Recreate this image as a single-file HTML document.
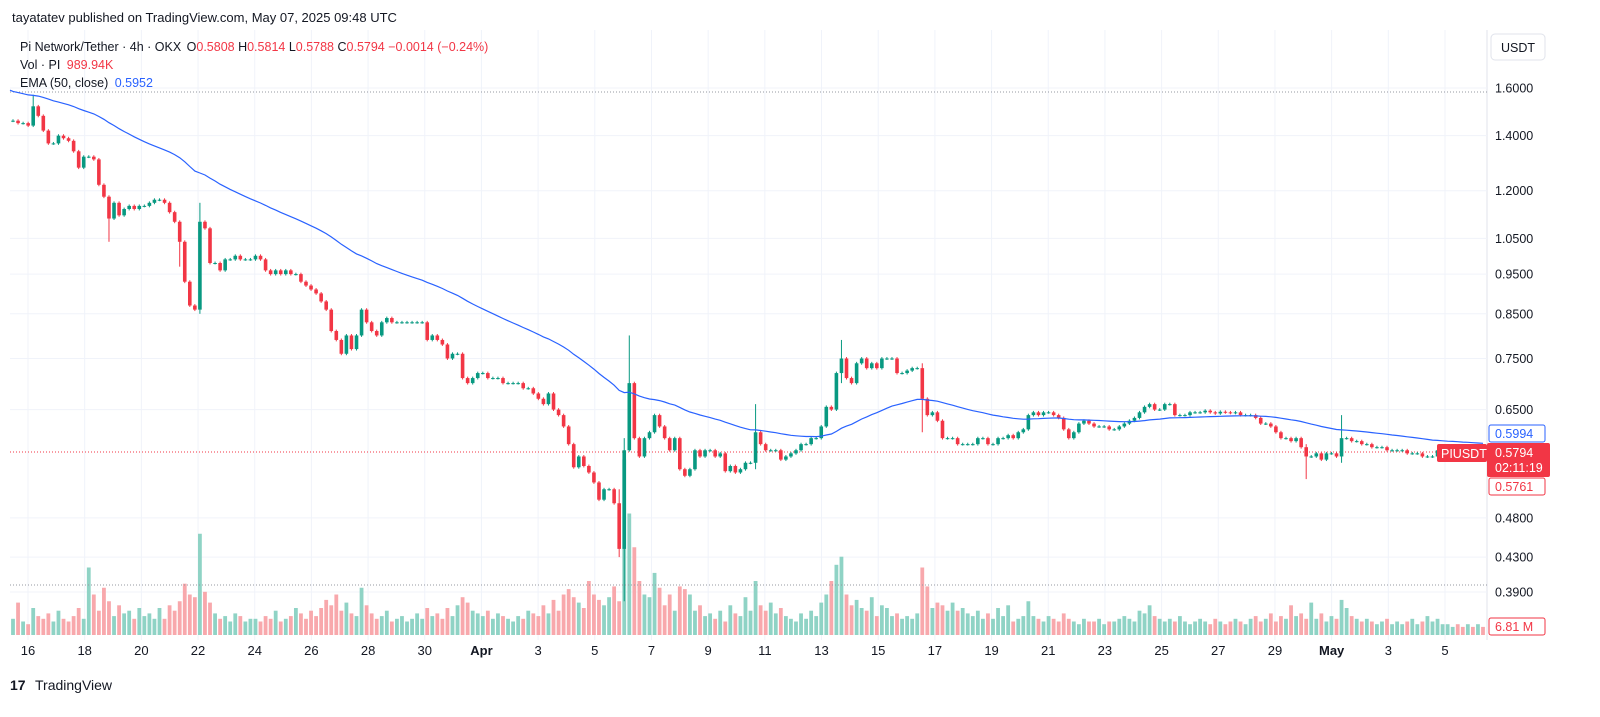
<!DOCTYPE html>
<html><head><meta charset="utf-8"><style>
body{margin:0;background:#fff;}
svg{display:block;font-family:"Liberation Sans",sans-serif;}
</style></head><body>
<svg id="chart" width="1600" height="717" viewBox="0 0 1600 717">
<rect x="0" y="0" width="1600" height="717" fill="#fff"/>
<text x="12" y="22" font-size="13" fill="#131722">tayatatev published on TradingView.com, May 07, 2025 09:48 UTC</text>
<line x1="1487" y1="30" x2="1487" y2="640" stroke="#e0e3eb"/>
<g id="grid"></g>
<g id="vol"></g>
<line x1="10" y1="92" x2="1487" y2="92" stroke="#9598a1" stroke-dasharray="1,2"/>
<line x1="10" y1="585" x2="1487" y2="585" stroke="#9598a1" stroke-dasharray="1,2"/>
<line x1="10" y1="452" x2="1487" y2="452" stroke="#f23645" stroke-dasharray="1,2"/>
<g id="candles"></g>
<path id="ema" fill="none" stroke="#2962ff" stroke-width="1.2"/>
<g id="yaxis"></g>
<g id="xaxis"></g>
<g font-size="12.5">
<text x="20" y="51" fill="#131722">Pi Network/Tether · 4h · OKX <tspan dx="2">O</tspan><tspan fill="#f23645">0.5808</tspan> H<tspan fill="#f23645">0.5814</tspan> L<tspan fill="#f23645">0.5788</tspan> C<tspan fill="#f23645">0.5794 −0.0014 (−0.24%)</tspan></text>
<text x="20" y="69" fill="#131722">Vol · PI <tspan fill="#f23645" dx="3">989.94K</tspan></text>
<text x="20" y="87" fill="#131722">EMA (50, close) <tspan fill="#2962ff" dx="3">0.5952</tspan></text>
</g>
<rect x="1491" y="34" width="54" height="26" rx="4" fill="#fff" stroke="#e0e3eb"/>
<text x="1518" y="52" font-size="12.5" fill="#131722" text-anchor="middle">USDT</text>
<rect x="1489" y="425" width="56" height="17" rx="2" fill="#fff" stroke="#2962ff"/>
<text x="1495" y="438" font-size="12.5" fill="#2962ff">0.5994</text>
<rect x="1437" y="444" width="50" height="18" rx="2" fill="#f23645"/>
<text x="1441" y="458" font-size="12.5" fill="#fff">PIUSDT</text>
<rect x="1487" y="443" width="63" height="34" rx="2" fill="#f23645"/>
<text x="1495" y="457" font-size="12.5" fill="#fff">0.5794</text>
<text x="1495" y="472" font-size="12.5" fill="#fff">02:11:19</text>
<rect x="1489" y="478" width="56" height="17" rx="2" fill="#fff" stroke="#f23645"/>
<text x="1495" y="491" font-size="12.5" fill="#f23645">0.5761</text>
<rect x="1489" y="618" width="56" height="17" rx="2" fill="#fff" stroke="#f23645"/>
<text x="1495" y="631" font-size="12.5" fill="#f23645">6.81 M</text>
<g>
<text x="10" y="690" font-size="14" font-weight="bold" fill="#131722">17</text>
<text x="35" y="690" font-size="14" fill="#131722">TradingView</text>
</g>
</svg>
<script>
const closes=[1.46,1.45,1.45,1.44,1.52,1.48,1.42,1.37,1.37,1.40,1.39,1.38,1.34,1.28,1.32,1.32,1.31,1.22,1.18,1.11,
1.16,1.12,1.14,1.15,1.14,1.15,1.15,1.16,1.17,1.17,1.16,1.13,1.10,1.04,0.93,0.87,0.86,1.10,1.08,0.98,0.98,0.96,0.99,0.99,1.00,0.99,0.99,0.99,1.00,0.99,
0.96,0.95,0.96,0.95,0.96,0.95,0.95,0.93,0.92,0.91,0.90,0.88,0.86,0.81,0.79,0.76,0.80,0.77,0.80,0.86,0.83,0.81,0.80,0.83,0.84,0.83,0.83,0.83,0.83,0.83,0.83,0.83,0.79,0.80,0.79,0.78,0.75,0.76,0.76,0.71,0.70,0.71,0.72,0.72,0.71,0.71,0.71,0.70,0.70,0.70,0.70,0.69,0.69,0.68,
0.67,0.66,0.68,0.65,0.64,0.62,0.59,0.553,0.57,0.555,0.545,0.53,0.505,0.52,0.52,0.50,0.44,0.58,0.70,0.60,0.57,0.60,0.61,0.64,0.62,0.60,0.58,0.60,0.55,0.54,0.55,0.58,0.57,0.58,0.58,0.57,0.575,0.547,0.555,0.545,0.55,0.56,0.56,0.61,0.59,0.58,0.58,0.58,0.565,0.57,0.575,0.58,0.59,0.59,0.60,0.60,0.62,0.655,0.65,0.72,0.75,0.71,0.70,0.74,0.75,0.73,0.74,0.73,0.75,0.75,0.75,0.72,0.72,0.725,0.73,0.73,0.67,0.64,0.645,0.63,0.60,0.60,0.60,0.59,0.59,0.59,0.59,0.60,0.60,0.59,0.59,0.60,0.60,0.605,
0.60,0.61,0.615,0.64,0.645,0.64,0.645,0.645,0.64,0.635,0.615,0.60,0.61,0.625,0.63,0.625,0.62,0.62,0.62,0.615,0.615,0.62,0.625,0.63,0.635,0.645,0.655,0.66,0.65,0.65,0.66,0.66,0.64,0.64,0.64,0.645,0.645,0.645,0.648,0.645,0.643,0.646,0.645,0.644,0.645,0.64,0.64,0.64,0.635,0.625,0.625,0.62,0.61,0.60,0.60,0.595,0.60,0.585,0.57,0.57,0.575,0.565,0.575,0.575,0.57,0.60,0.60,0.595,0.595,0.59,0.59,0.585,0.585,0.585,0.58,0.58,0.58,0.58,0.575,0.575,0.575,0.57,0.57,0.57,0.58,0.58,0.58,0.585,0.582,0.58,0.581,0.579,0.58,0.5794];
const volumes=[12,24,10,8,20,14,12,16,10,18,12,10,14,20,12,50,30,18,35,25,
14,22,16,18,12,20,14,16,12,20,12,22,18,25,38,30,28,75,32,24,16,12,14,10,16,14,10,12,12,10,
14,12,18,10,12,14,20,16,12,18,14,20,26,22,30,18,24,16,14,35,22,16,12,14,18,10,12,14,10,12,16,12,20,14,16,12,20,14,22,28,24,18,16,14,18,12,16,14,12,10,14,12,18,16,
14,22,16,26,18,30,34,28,24,20,40,30,26,22,28,36,25,130,90,65,40,30,28,46,35,22,30,18,36,34,30,18,22,14,16,12,18,10,22,16,14,28,18,40,22,18,24,16,20,14,12,10,16,12,18,14,24,30,40,52,58,30,22,26,20,18,28,14,22,20,14,16,12,14,12,16,50,36,20,24,22,18,24,18,20,16,14,18,12,16,12,20,14,22,
10,12,14,25,14,12,10,14,12,10,16,12,10,8,12,10,10,12,8,10,10,12,14,12,10,18,16,22,14,12,10,12,10,14,10,8,10,12,10,8,12,10,8,10,12,10,8,12,14,10,12,16,10,14,12,22,14,16,12,24,12,16,10,14,12,26,20,14,12,10,12,10,8,10,12,8,10,8,10,12,8,10,14,10,12,8,8,6,8,6,8,6,8,6];
const spikeIdx=[4,19,33,37,120,121,122,147,164,180,256,263];
const spikeHigh=[1.57,1.16,1.10,1.16,0.52,0.60,0.80,0.66,0.79,0.74,0.59,0.64];
const spikeLow=[1.45,1.04,0.97,0.85,0.43,0.38,0.58,0.55,0.70,0.61,0.535,0.56];
const priceTicks=[1.6,1.4,1.2,1.05,0.95,0.85,0.75,0.65,0.48,0.43,0.39];
const priceTickLabels=["1.6000","1.4000","1.2000","1.0500","0.9500","0.8500","0.7500","0.6500","0.4800","0.4300","0.3900"];
const dateLabels=["16","18","20","22","24","26","28","30","Apr","3","5","7","9","11","13","15","17","19","21","23","25","27","29","May","3","5"];
const dateDays=[0,2,4,6,8,10,12,14,16,18,20,22,24,26,28,30,32,34,36,38,40,42,44,46,48,50];
const emaSeed=1.59;

const NS="http://www.w3.org/2000/svg";
const Y0=88,K=357,PTOP=1.6;
function yScale(p){return Y0+Math.log(PTOP/p)*K;}
const X0=13,X1=1483;
function xScale(i){return X0+(X1-X0)*i/(closes.length-1);}
function dateX(d){return 28+d*28.34;}
const VB=635,VK=1.35;
function vScale(v){return v*VK;}
function mk(tag,attrs,parent){const e=document.createElementNS(NS,tag);for(const k in attrs)e.setAttribute(k,attrs[k]);parent.appendChild(e);return e;}

const grid=document.getElementById('grid'),yaxis=document.getElementById('yaxis'),xaxis=document.getElementById('xaxis');
priceTicks.forEach((p,i)=>{
  const y=yScale(p);
  const l=mk('line',{x1:10,x2:1487,y1:y,y2:y,stroke:'#f0f3fa'},grid);
  
  
  const t=mk('text',{x:1495,y:y+4.5,'font-size':12.5,fill:'#131722'},yaxis);
  t.textContent=priceTickLabels[i];
  
  
});
dateLabels.forEach((s,i)=>{
  const x=dateX(dateDays[i]);
  const l=mk('line',{x1:x,x2:x,y1:30,y2:640,stroke:'#f0f3fa'},grid);
  
  
  const bold=(s==="Apr"||s==="May");
  const t=mk('text',{x:x,y:655,'font-size':13,fill:'#131722','text-anchor':'middle','font-weight':bold?'bold':'normal'},xaxis);
  t.textContent=s;
  
  
});

const cg=document.getElementById('candles'),vg=document.getElementById('vol');
let prev=closes[0];
closes.forEach((c,i)=>{
  const o=prev;prev=c;
  const up=c>=o;
  let hi=Math.max(o,c)*1.004,lo=Math.min(o,c)*0.996;
  const si=spikeIdx.indexOf(i);
  if(si>=0){hi=Math.max(hi,spikeHigh[si]);lo=Math.min(lo,spikeLow[si]);}
  const x=xScale(i);
  const col=up?'#089981':'#f23645';
  const v=volumes[i]||0;
  const vb=mk('rect',{x:x-1.9,y:VB-vScale(v),width:3.8,height:vScale(v),fill:up?'#8fd3c5':'#f8a8ac'},vg);
  
  
  const w=mk('line',{x1:x,x2:x,y1:yScale(hi),y2:yScale(lo),stroke:col,'stroke-width':1},cg);
  
  
  const yt=yScale(Math.max(o,c)),yb=yScale(Math.min(o,c));
  const b=mk('rect',{x:x-1.8,y:yt,width:3.6,height:Math.max(1,yb-yt),fill:col},cg);
  
  
});
let e=emaSeed,d='';const a=2/51;
closes.forEach((c,i)=>{e=e+(c-e)*a;d+=(i?'L':'M')+xScale(i).toFixed(1)+','+yScale(e).toFixed(1);});
document.getElementById('ema').setAttribute('d','M10,'+yScale(emaSeed).toFixed(1)+d.replace('M','L'));
</script>
</body></html>
